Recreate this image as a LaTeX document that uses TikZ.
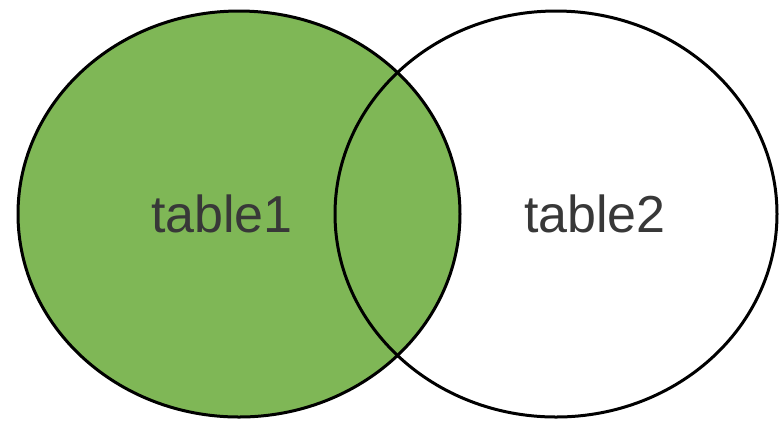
\documentclass[tikz,border=0pt]{standalone}
\usepackage{fontspec}
\setmainfont{Liberation Sans}
\usetikzlibrary{shapes.geometric}
\definecolor{setgreen}{HTML}{7FB756}
\definecolor{labelgray}{HTML}{383838}
\tikzset{
  setshape/.style={ellipse, draw=black, line width=1.5pt, inner sep=0pt, outer sep=0pt,
    minimum width=221pt, minimum height=203pt},
  setlabel/.style={anchor=base, text=labelgray, inner sep=0pt,
    font=\fontsize{26}{26}\selectfont}
}
\begin{document}
\begin{tikzpicture}
\useasboundingbox (0,0) rectangle (391pt,-210pt);
\node[setshape, fill=setgreen] (left) at (119.5pt,-107pt) {};
\node[setshape] (right) at (278pt,-107pt) {};
\node[setlabel] (table1) at (111pt,-116pt) {table1};
\node[setlabel] (table2) at (297.5pt,-116pt) {table2};
\end{tikzpicture}
\end{document}
